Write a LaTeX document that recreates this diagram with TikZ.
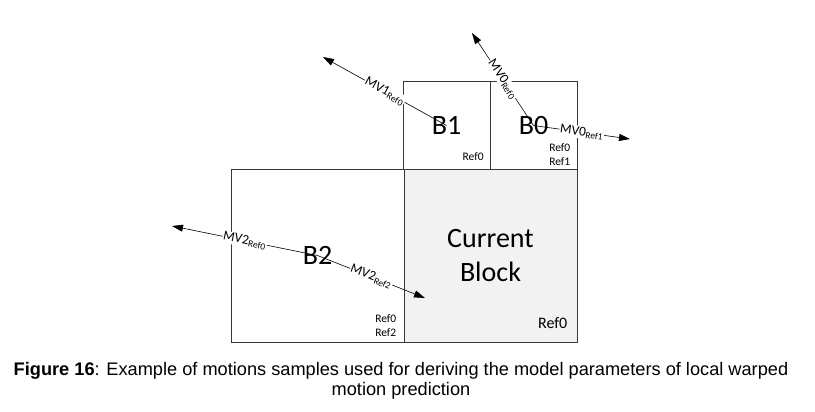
\documentclass[tikz,border=0pt]{standalone}
\usepackage{fontspec}
\setmainfont{Carlito}
\newfontfamily\capfont{Liberation Sans}
\usetikzlibrary{arrows.meta,positioning}
\definecolor{blockgray}{rgb}{0.95,0.95,0.95}
\definecolor{edgegray}{rgb}{0.22,0.22,0.22}
\tikzset{
  blk/.style={draw=edgegray,line width=1pt,inner sep=0pt,
    font=\fontsize{28}{34}\selectfont},
  smallblk/.style={blk,minimum width=87pt,minimum height=87pt},
  bigblk/.style={blk,minimum width=173pt,minimum height=173pt},
  mv/.style={-{Triangle[length=11pt,width=7pt]},line width=0.6pt},
  mvlbl/.style={sloped,fill=white,inner sep=0.6pt,
    font=\fontsize{13.5}{13.5}\selectfont},
  reflbl/.style={inner sep=0pt,align=left,anchor=south east,
    font=\fontsize{11.5}{14.5}\selectfont}
}
\begin{document}
\begin{tikzpicture}[x=1pt,y=-1pt]
        \useasboundingbox (0,0) rectangle (815,412);
        % ---- bloklar ----
        \node[smallblk] (b1) at (446.5,125.5) {B1};
        \node[smallblk] (b0) at (533.5,125.5) {B0};
        \node[bigblk] (b2) at (317.5,255.5) {B2};
        \node[bigblk,fill=blockgray,align=center] (cur) at (490.5,255.5)
            {Current\\Block};
        % ---- Ref yozuvlari ----
        \node[reflbl] (b1ref) at ([xshift=-6.7pt,yshift=9pt]b1.south east) {Ref0};
        \node[reflbl] (b0ref) at ([xshift=-7pt,yshift=3.3pt]b0.south east) {Ref0\\Ref1};
        \node[reflbl] (b2ref) at ([xshift=-8pt,yshift=5.3pt]b2.south east) {Ref0\\Ref2};
        \node[reflbl,font=\fontsize{16}{18}\selectfont] (curref)
            at ([xshift=-10pt,yshift=13.7pt]cur.south east) {Ref0};
        % ---- harakat vektorlari ----
        \coordinate (mv1tip) at (323,57);
        \coordinate (mv0atip) at (472,33);
        \coordinate (mv0btip) at (630,139);
        \coordinate (mv2atip) at (172,226);
        \coordinate (mv2btip) at (425,298);
        \draw[mv] (b1.center) -- node[mvlbl]{MV1\textsubscript{Ref0}} (mv1tip);
        \draw[mv] (b0.center) -- node[mvlbl]{MV0\textsubscript{Ref0}} (mv0atip);
        \draw[mv] (b0.center) -- node[mvlbl]{MV0\textsubscript{Ref1}} (mv0btip);
        \draw[mv] (b2.center) -- node[mvlbl]{MV2\textsubscript{Ref0}} (mv2atip);
        \draw[mv] (b2.center) -- node[mvlbl]{MV2\textsubscript{Ref2}} (mv2btip);
        % ---- sarlavha ----
        \node[anchor=north,inner sep=0pt,align=center,
            font=\capfont\fontsize{18.2}{19.5}\selectfont] (caption) at (401,362.5)
            {\textbf{Figure 16}: Example of motions samples used for deriving the model parameters of local warped\\motion prediction};
      \end{tikzpicture}
\end{document}
